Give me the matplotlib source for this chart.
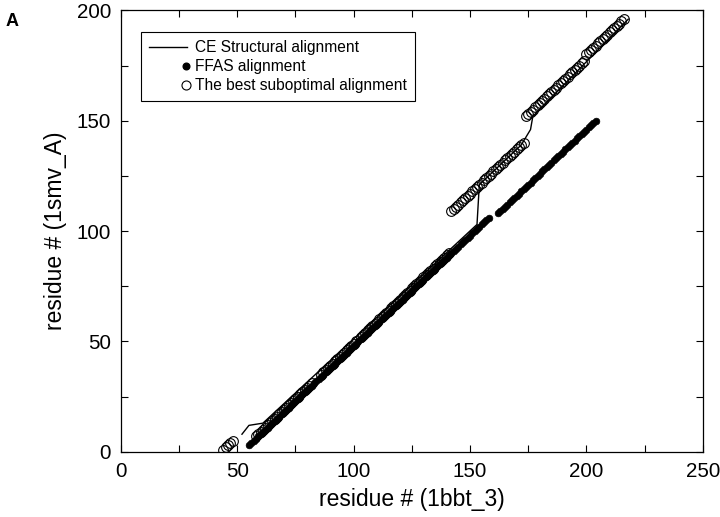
import numpy as np
import matplotlib
matplotlib.use('Agg')
import matplotlib.pyplot as plt
from matplotlib.lines import Line2D
from matplotlib.legend_handler import HandlerLine2D

plt.rcParams['font.family'] = ['Liberation Sans', 'DejaVu Sans']

# CE structural alignment (polyline vertices: residue in 1bbt_3, residue in 1smv_A)
ce_x = [52, 55, 61, 153, 154, 172, 176, 177, 218]
ce_y = [8, 12, 13, 103, 121, 139, 146, 152, 196]

# FFAS alignment: aligned blocks (start in 1bbt_3, start in 1smv_A, length)
ffas_start_x = [55, 162]
ffas_start_y = [3, 108]
ffas_len = [104, 43]

# best suboptimal alignment: aligned blocks
sub_start_x = [44, 58, 86, 103, 142, 174, 200]
sub_start_y = [1, 7, 35, 52, 109, 152, 180]
sub_len = [5, 25, 16, 39, 32, 26, 17]


def expand(sx, sy, ln):
    # aligned residues run consecutively inside each block
    xs, ys = [], []
    for a, b, n in zip(sx, sy, ln):
        xs.extend(range(a, a + n))
        ys.extend(range(b, b + n))
    return np.array(xs), np.array(ys)


ffas_x, ffas_y = expand(ffas_start_x, ffas_start_y, ffas_len)
sub_x, sub_y = expand(sub_start_x, sub_start_y, sub_len)


class MarkerAtEnd(HandlerLine2D):
    # gnuplot style key: point symbol sits at the right end of the sample
    def create_artists(self, legend, orig_handle, xdescent, ydescent,
                       width, height, fontsize, trans):
        m = Line2D([width - xdescent - 0.05 * fontsize], [(height - ydescent) / 2.0])
        self.update_prop(m, orig_handle, legend)
        m.set_linestyle('None')
        m.set_transform(trans)
        return [m]


fig = plt.figure(figsize=(7.2, 5.17), dpi=100)
ax = fig.add_axes([0.168, 0.126, 0.808, 0.854])

ax.plot(sub_x, sub_y, ls='none', marker='o', ms=7, mfc='none',
        mec='black', mew=0.8)
ax.plot(ce_x, ce_y, color='black', lw=1.0)
ax.plot(ffas_x, ffas_y, ls='none', marker='o', ms=4.8, mfc='black',
        mec='black', mew=0.5)

ax.set_xlim(0, 250)
ax.set_ylim(0, 200)
ax.set_xticks(np.arange(0, 251, 50))
ax.set_yticks(np.arange(0, 201, 50))
ax.set_xticks(np.arange(0, 251, 25), minor=True)
ax.set_yticks(np.arange(0, 201, 25), minor=True)
ax.tick_params(which='both', direction='in', top=True, right=True,
               labelsize=14.8, width=0.8)
ax.tick_params(which='major', length=5, pad=7)
ax.tick_params(which='minor', length=5)
for s in ax.spines.values():
    s.set_linewidth(0.9)

ax.set_xlabel('residue # (1bbt_3)', fontsize=16.5, labelpad=5)
ax.set_ylabel('residue # (1smv_A)', fontsize=16.5, labelpad=7)

h_ce = Line2D([], [], color='black', lw=1.0)
h_ffas = Line2D([], [], ls='none', marker='o', ms=4.8, mfc='black', mec='black')
h_sub = Line2D([], [], ls='none', marker='o', ms=6.5, mfc='none', mec='black', mew=0.8)
leg = ax.legend([h_ce, h_ffas, h_sub],
                ['CE Structural alignment', 'FFAS alignment', 'The best suboptimal alignment'],
                loc='upper left', bbox_to_anchor=(0.034, 0.95), borderaxespad=0,
                fontsize=11.2, handlelength=2.45, handletextpad=0.55,
                labelspacing=0.25, borderpad=0.5, fancybox=False, framealpha=1,
                handler_map={h_ffas: MarkerAtEnd(), h_sub: MarkerAtEnd()})
leg.get_frame().set_edgecolor('black')
leg.get_frame().set_linewidth(0.8)

fig.text(0.008, 0.975, 'A', fontsize=13, fontweight='bold', va='top')

fig.savefig('out.png', dpi=100)
